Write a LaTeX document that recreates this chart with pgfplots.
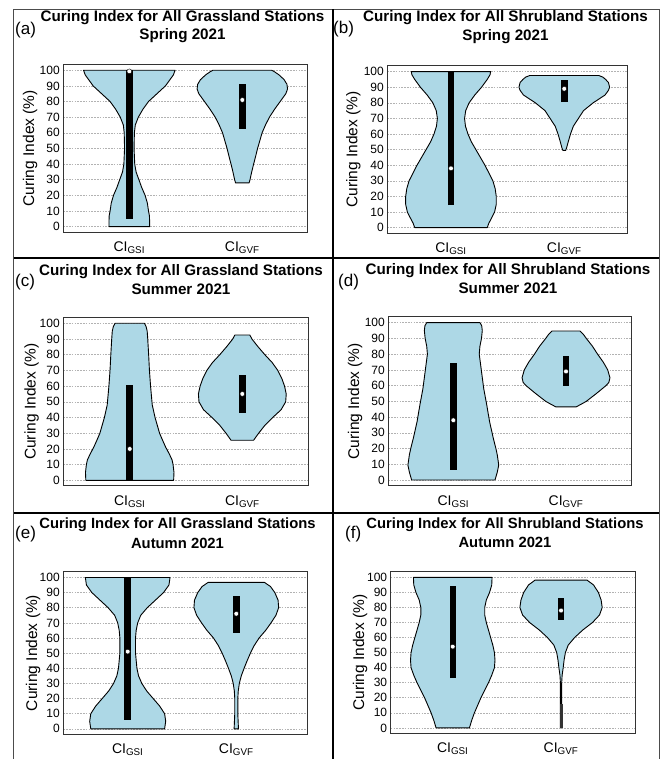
\documentclass[border=0pt]{standalone}
\usepackage{pgfplots}
\pgfplotsset{compat=1.18}
\usepackage{fontspec}
\setmainfont{Liberation Sans}
\definecolor{vio}{RGB}{173,216,230}
\pgfplotsset{
 vplot/.style={
  scale only axis,
  anchor=south west,
  ymin=-3.6, ymax=103.8,
  xtick={1,2}, xticklabels={CI\textsubscript{GSI},CI\textsubscript{GVF}},
  ytick={0,10,...,100},
  /pgf/number format/assume math mode=true,
  ymajorgrids,
  major grid style={dash pattern=on 1.6pt off 1.2pt, black!30, line width=0.6pt},
  axis line style={black!80, line width=1pt},
  major tick length=0pt,
  tick style={draw=none},
  yticklabel style={font=\fontsize{12}{14}\selectfont},
  xticklabel style={font=\fontsize{14}{16}\selectfont, yshift=-6pt},
 },
 vfill/.style={fill=vio, draw=black, line width=0.9pt, line join=round},
 vbar/.style={black, line width=6.5pt},
 vmed/.style={only marks, mark=*, mark size=2.4pt, mark options={fill=white, draw=none}},
}
\tikzset{
 ttl/.style={font=\bfseries\fontsize{15.2}{18}\selectfont, anchor=base, inner sep=0pt},
 plab/.style={font=\fontsize{17}{20}\selectfont, anchor=base west, inner sep=0pt},
 ylab/.style={rotate=90, font=\fontsize{15.5}{18}\selectfont, inner sep=0pt},
}
\begin{document}
\begin{tikzpicture}
\useasboundingbox (0pt,0pt) rectangle (660pt,759pt);

% ---------------- (a) ----------------
\begin{axis}[vplot, at={(63.3pt,526.7pt)}, width=244pt, height=168pt, xmin=0.416, xmax=2.575]
\addplot[vfill] coordinates {(1.18,0) (1.18,3) (1.178,7) (1.17,10) (1.16,15) (1.14,20) (1.11,25) (1.085,30) (1.06,35) (1.048,40) (1.042,50) (1.045,60) (1.053,65) (1.08,70) (1.12,75) (1.17,80) (1.245,85) (1.32,90) (1.36,94) (1.39,97) (1.405,100)
(0.595,100) (0.61,97) (0.64,94) (0.68,90) (0.755,85) (0.83,80) (0.88,75) (0.92,70) (0.947,65) (0.955,60) (0.958,50) (0.952,40) (0.94,35) (0.915,30) (0.89,25) (0.86,20) (0.84,15) (0.83,10) (0.822,7) (0.82,3) (0.82,0)} --cycle;
\addplot[vfill] coordinates {(2.06,28) (2.068,30) (2.083,35) (2.1,40) (2.118,45) (2.135,50) (2.155,55) (2.175,60) (2.205,65) (2.24,70) (2.285,75) (2.335,80) (2.385,85) (2.4,88) (2.395,91) (2.37,94) (2.325,97) (2.285,99) (2.26,100)
(1.74,100) (1.715,99) (1.675,97) (1.63,94) (1.605,91) (1.6,88) (1.615,85) (1.665,80) (1.715,75) (1.76,70) (1.795,65) (1.825,60) (1.845,55) (1.865,50) (1.882,45) (1.9,40) (1.917,35) (1.932,30) (1.94,28)} --cycle;
\addplot[vbar] coordinates {(1,5) (1,100)};
\addplot[vbar] coordinates {(2,62.5) (2,91)};
\addplot[vmed] coordinates {(1,99.3) (2,81)};
\end{axis}

% ---------------- (b) ----------------
\begin{axis}[vplot, at={(387.3pt,525.7pt)}, width=240.4pt, height=167.6pt, xmin=0.438, xmax=2.56]
\addplot[vfill] coordinates {(1.32,0) (1.335,3) (1.35,5) (1.385,10) (1.4,15) (1.4,20) (1.39,25) (1.37,30) (1.335,35) (1.3,40) (1.26,45) (1.22,50) (1.18,55) (1.15,60) (1.128,65) (1.12,70) (1.13,75) (1.16,80) (1.21,85) (1.27,90) (1.32,95) (1.345,98) (1.35,100)
(0.65,100) (0.655,98) (0.68,95) (0.73,90) (0.79,85) (0.84,80) (0.87,75) (0.88,70) (0.872,65) (0.85,60) (0.82,55) (0.78,50) (0.74,45) (0.7,40) (0.665,35) (0.63,30) (0.61,25) (0.6,20) (0.6,15) (0.615,10) (0.65,5) (0.665,3) (0.68,0)} --cycle;
\addplot[vfill] coordinates {(2.012,49.5) (2.02,51) (2.035,55) (2.055,60) (2.08,65) (2.125,70) (2.17,75) (2.255,80) (2.36,85) (2.39,88) (2.4,90) (2.39,93) (2.365,95) (2.34,96.5) (2.305,97.5)
(1.695,97.5) (1.66,96.5) (1.635,95) (1.61,93) (1.6,90) (1.61,88) (1.64,85) (1.745,80) (1.83,75) (1.875,70) (1.92,65) (1.945,60) (1.965,55) (1.98,51) (1.988,49.5)} --cycle;
\addplot[vbar] coordinates {(1,14.5) (1,100)};
\addplot[vbar] coordinates {(2,80.5) (2,94.5)};
\addplot[vmed] coordinates {(1,38) (2,89)};
\end{axis}

% ---------------- (c) ----------------
\begin{axis}[vplot, at={(63.3pt,273pt)}, width=245pt, height=168.7pt, xmin=0.41, xmax=2.586]
\addplot[vfill] coordinates {(1.39,0) (1.393,5) (1.385,10) (1.376,13) (1.35,17) (1.32,21) (1.295,25) (1.265,30) (1.245,35) (1.225,40) (1.2,48) (1.185,60) (1.175,70) (1.168,80) (1.16,90) (1.155,95) (1.145,98) (1.13,100)
(0.87,100) (0.855,98) (0.845,95) (0.84,90) (0.832,80) (0.825,70) (0.815,60) (0.8,48) (0.775,40) (0.755,35) (0.735,30) (0.705,25) (0.68,21) (0.65,17) (0.624,13) (0.615,10) (0.607,5) (0.61,0)} --cycle;
\addplot[vfill] coordinates {(2.1,25.5) (2.125,28) (2.145,30) (2.2,35) (2.27,40) (2.345,45) (2.385,50) (2.39,55) (2.375,60) (2.35,65) (2.315,70) (2.265,75) (2.2,80) (2.14,85) (2.085,90) (2.067,92.5)
(1.933,92.5) (1.915,90) (1.86,85) (1.8,80) (1.735,75) (1.685,70) (1.65,65) (1.625,60) (1.61,55) (1.615,50) (1.655,45) (1.73,40) (1.8,35) (1.855,30) (1.875,28) (1.9,25.5)} --cycle;
\addplot[vbar] coordinates {(1,0) (1,61)};
\addplot[vbar] coordinates {(2,43) (2,67)};
\addplot[vmed] coordinates {(1,20) (2,55)};
\end{axis}

% ---------------- (d) ----------------
\begin{axis}[vplot, at={(388.3pt,273.3pt)}, width=243.4pt, height=169pt, xmin=0.423, xmax=2.583]
\addplot[vfill] coordinates {(1.37,0) (1.39,5) (1.403,9.5) (1.39,16) (1.378,20) (1.355,26.5) (1.322,37) (1.296,48) (1.27,58) (1.25,69) (1.23,80) (1.236,85) (1.25,90) (1.257,95) (1.252,98) (1.237,100)
(0.763,100) (0.748,98) (0.743,95) (0.75,90) (0.764,85) (0.77,80) (0.75,69) (0.73,58) (0.704,48) (0.678,37) (0.645,26.5) (0.622,20) (0.61,16) (0.597,9.5) (0.61,5) (0.63,0)} --cycle;
\addplot[vfill] coordinates {(2.09,46.5) (2.13,48) (2.18,50) (2.27,55) (2.355,60) (2.38,62) (2.39,65) (2.37,70) (2.33,75) (2.28,80) (2.235,85) (2.18,90) (2.155,92.5) (2.124,94.7)
(1.876,94.7) (1.845,92.5) (1.82,90) (1.765,85) (1.72,80) (1.67,75) (1.63,70) (1.61,65) (1.62,62) (1.645,60) (1.73,55) (1.82,50) (1.87,48) (1.91,46.5)} --cycle;
\addplot[vbar] coordinates {(1,6.5) (1,74.5)};
\addplot[vbar] coordinates {(2,60) (2,79)};
\addplot[vmed] coordinates {(1,38) (2,69)};
\end{axis}

% ---------------- (e) ----------------
\begin{axis}[vplot, at={(63.3pt,24.7pt)}, width=244pt, height=162.6pt, xmin=0.407, xmax=2.654]
\addplot[vfill] coordinates {(1.34,0) (1.35,5) (1.34,10) (1.295,15) (1.235,20) (1.175,25) (1.13,30) (1.1,35) (1.085,40) (1.072,50) (1.072,60) (1.078,65) (1.092,70) (1.12,75) (1.18,80) (1.255,85) (1.33,90) (1.38,95) (1.39,100)
(0.61,100) (0.62,95) (0.67,90) (0.745,85) (0.82,80) (0.88,75) (0.908,70) (0.922,65) (0.928,60) (0.928,50) (0.915,40) (0.9,35) (0.87,30) (0.825,25) (0.765,20) (0.705,15) (0.66,10) (0.65,5) (0.66,0)} --cycle;
\addplot[vfill] coordinates {(2.02,0) (2.017,5) (2.014,10) (2.014,20) (2.018,25) (2.028,30) (2.046,35) (2.072,40) (2.1,45) (2.13,50) (2.165,55) (2.21,60) (2.27,65) (2.32,70) (2.365,75) (2.39,80) (2.385,85) (2.355,90) (2.315,94) (2.26,96.7)
(1.74,96.7) (1.685,94) (1.645,90) (1.615,85) (1.61,80) (1.635,75) (1.68,70) (1.73,65) (1.79,60) (1.835,55) (1.87,50) (1.9,45) (1.928,40) (1.954,35) (1.972,30) (1.982,25) (1.986,20) (1.986,10) (1.983,5) (1.98,0)} --cycle;
\addplot[vbar] coordinates {(1,6) (1,100)};
\addplot[vbar] coordinates {(2,63.5) (2,88)};
\addplot[vmed] coordinates {(1,51) (2,76)};
\end{axis}

% ---------------- (f) ----------------
\begin{axis}[vplot, at={(390.7pt,25.7pt)}, width=244.3pt, height=161.6pt, xmin=0.427, xmax=2.683]
\addplot[vfill] coordinates {(1.154,0) (1.175,5) (1.2,10) (1.23,15) (1.26,20) (1.295,25) (1.33,30) (1.36,35) (1.385,40) (1.39,45) (1.385,50) (1.37,55) (1.35,60) (1.33,65) (1.31,70) (1.295,75) (1.295,80) (1.31,85) (1.34,90) (1.36,95) (1.363,100)
(0.637,100) (0.64,95) (0.66,90) (0.69,85) (0.705,80) (0.705,75) (0.69,70) (0.67,65) (0.65,60) (0.63,55) (0.615,50) (0.61,45) (0.615,40) (0.64,35) (0.67,30) (0.705,25) (0.74,20) (0.77,15) (0.8,10) (0.825,5) (0.846,0)} --cycle;
\addplot[vfill] coordinates {(2.006,0) (2.006,30) (2.01,35) (2.02,40) (2.028,45) (2.04,50) (2.066,55) (2.125,60) (2.2,65) (2.29,70) (2.355,75) (2.38,80) (2.37,85) (2.345,90) (2.3,95) (2.24,98.2)
(1.76,98.2) (1.7,95) (1.655,90) (1.63,85) (1.62,80) (1.645,75) (1.71,70) (1.8,65) (1.875,60) (1.934,55) (1.96,50) (1.972,45) (1.98,40) (1.99,35) (1.994,30) (1.994,0)} --cycle;
\addplot[vbar] coordinates {(1,33) (1,94)};
\addplot[vbar] coordinates {(2,72) (2,86)};
\addplot[black!80, line width=3pt] coordinates {(2,0) (2,16)};
\addplot[vmed] coordinates {(1,54) (2,78)};
\end{axis}

% ---------------- titles and labels ----------------
\node[ttl] at (182.5pt,737.5pt) {Curing Index for All Grassland Stations};
\node[ttl] at (182.5pt,719pt) {Spring 2021};
\node[ttl] at (505.5pt,737.3pt) {Curing Index for All Shrubland Stations};
\node[ttl] at (505.5pt,718.3pt) {Spring 2021};
\node[ttl] at (181pt,483.3pt) {Curing Index for All Grassland Stations};
\node[ttl] at (181pt,464pt) {Summer 2021};
\node[ttl] at (508pt,484.7pt) {Curing Index for All Shrubland Stations};
\node[ttl] at (508pt,465.7pt) {Summer 2021};
\node[ttl, font=\bfseries\fontsize{14.8}{18}\selectfont] at (177.5pt,230.7pt) {Curing Index for All Grassland Stations};
\node[ttl, font=\bfseries\fontsize{14.8}{18}\selectfont] at (177.5pt,210.7pt) {Autumn 2021};
\node[ttl, font=\bfseries\fontsize{14.8}{18}\selectfont] at (505pt,230.7pt) {Curing Index for All Shrubland Stations};
\node[ttl, font=\bfseries\fontsize{14.8}{18}\selectfont] at (505pt,211.7pt) {Autumn 2021};

\node[plab] at (15pt,724pt) {(a)};
\node[plab] at (333pt,725.7pt) {(b)};
\node[plab] at (15pt,472.3pt) {(c)};
\node[plab] at (338pt,472.3pt) {(d)};
\node[plab] at (15pt,220.7pt) {(e)};
\node[plab] at (345pt,220.7pt) {(f)};

\node[ylab] at (30pt,610.7pt) {Curing Index (\%)};
\node[ylab] at (353.3pt,609.5pt) {Curing Index (\%)};
\node[ylab] at (31.7pt,357.3pt) {Curing Index (\%)};
\node[ylab] at (355pt,357.8pt) {Curing Index (\%)};
\node[ylab] at (33pt,106pt) {Curing Index (\%)};
\node[ylab] at (360pt,106.5pt) {Curing Index (\%)};

% ---------------- panel frames ----------------
\draw[black!70, line width=0.8pt] (13.5pt,0pt) -- (13.5pt,750pt) -- (659pt,750pt) -- (659pt,0pt);
\draw[black, line width=2pt] (332.7pt,0pt) -- (332.7pt,750pt);
\draw[black, line width=2pt] (13.5pt,501pt) -- (659pt,501pt);
\draw[black, line width=2pt] (13.5pt,245.7pt) -- (659pt,245.7pt);
\end{tikzpicture}
\end{document}
